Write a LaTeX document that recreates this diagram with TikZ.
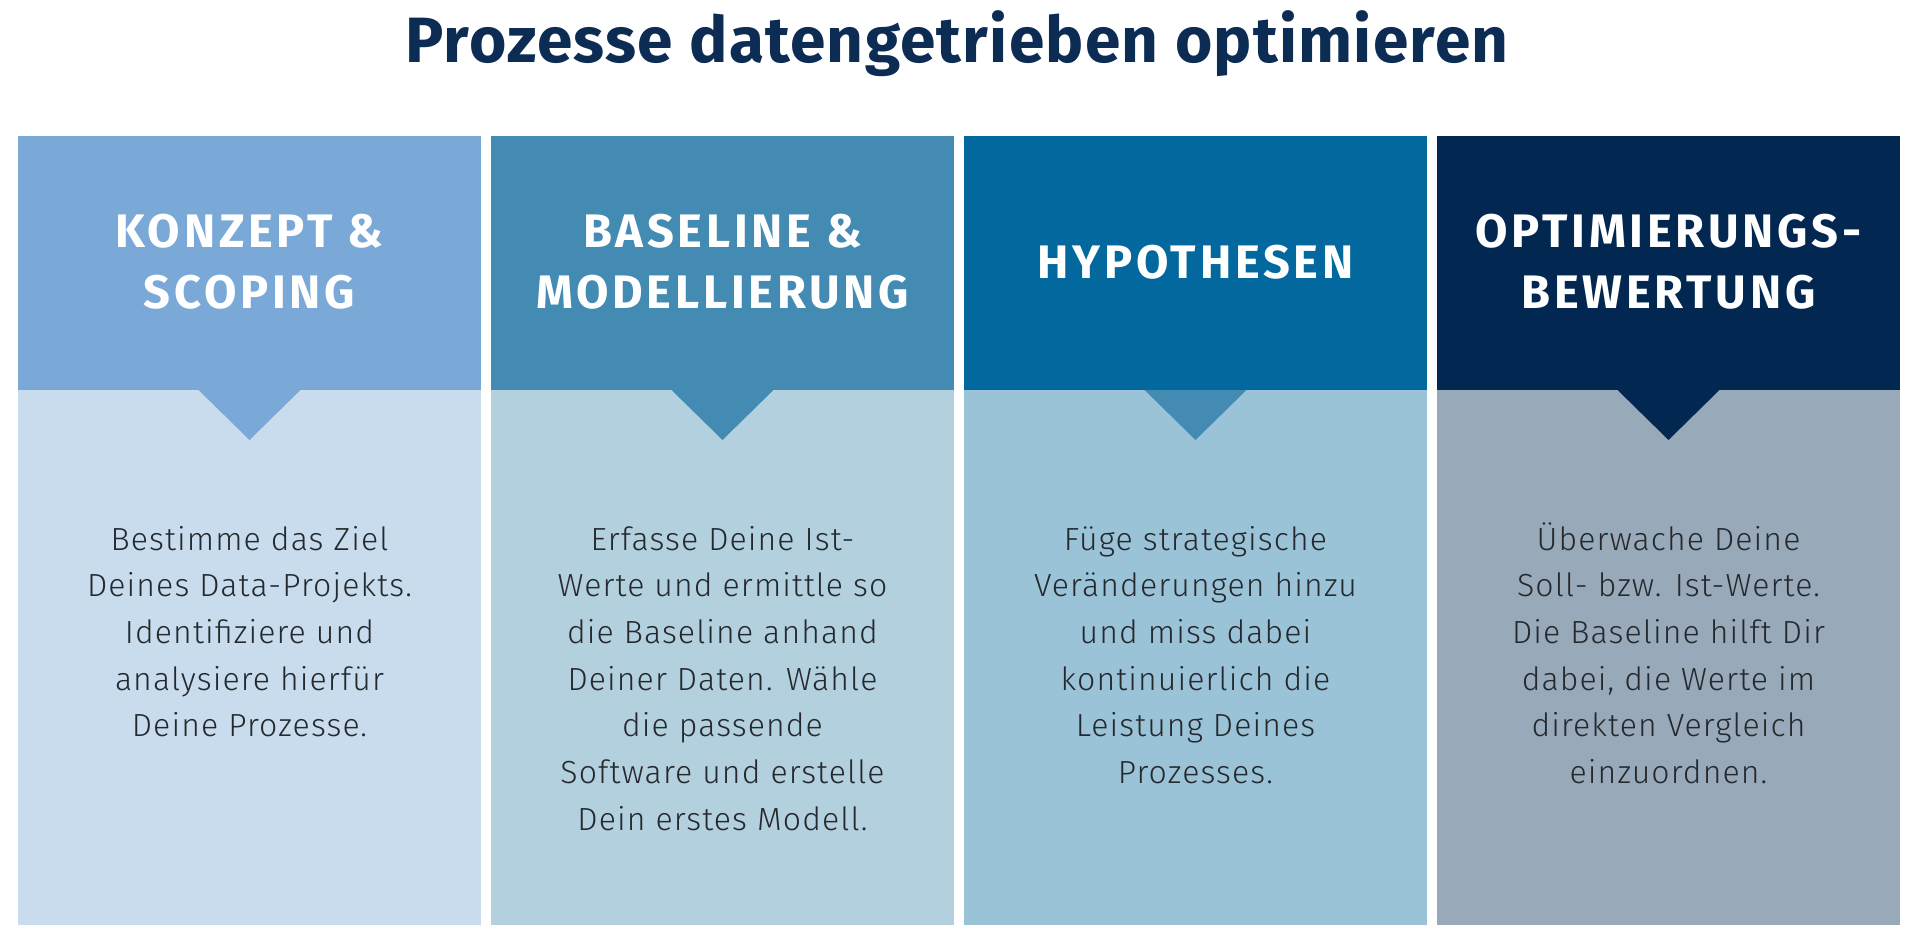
\documentclass[tikz,border=0pt]{standalone}
\usepackage{fontspec}
\setmainfont{Fira Sans}
\newfontfamily\titlefont{Fira Sans}[LetterSpace=2]
\newfontfamily\headfont{Fira Sans}[LetterSpace=8]
\newfontfamily\bodyfont{Fira Sans Light}[LetterSpace=3.5]
\definecolor{titlec}{HTML}{0D2C54}
\definecolor{bodytext}{HTML}{25292D}
\definecolor{hA}{HTML}{7AA9D7}
\definecolor{bA}{HTML}{C8DCEE}
\definecolor{hB}{HTML}{438BB3}
\definecolor{bB}{HTML}{B3D0DF}
\definecolor{hC}{HTML}{02689D}
\definecolor{bC}{HTML}{9BC3D8}
\definecolor{tC}{HTML}{438BB3}
\definecolor{hD}{HTML}{022852}
\definecolor{bD}{HTML}{98AABA}
\begin{document}
\begin{tikzpicture}[x=1pt,y=-1pt,
  hdrbox/.style={inner sep=0pt, minimum width=463pt, minimum height=254pt, anchor=north west},
  bodybox/.style={inner sep=0pt, minimum width=463pt, minimum height=535pt, anchor=north west},
  hdrtext/.style={anchor=base, align=center, text=white, inner sep=0pt,
    font={\headfont\bfseries\fontsize{47}{61}\selectfont}},
  bodytxt/.style={anchor=base, align=center, text=bodytext, inner sep=0pt,
    font={\bodyfont\fontsize{32}{46.7}\selectfont}}]
\useasboundingbox[fill=white] (0,0) rectangle (1920,947);
\node[anchor=base, text=titlec, inner sep=0pt, font={\titlefont\bfseries\fontsize{64}{70}\selectfont}] (title) at (957,63) {Prozesse datengetrieben optimieren};
% columns: body, then pointer (tucked under the header), then header
\foreach \n/\x/\hc/\bc/\tc in {A/18/hA/bA/hA, B/491/hB/bB/hB, C/964/hC/bC/tC, D/1437/hD/bD/hD}{
  \node[bodybox, fill=\bc] (b\n) at (\x,390) {};
  \coordinate (p\n) at (\x+231.5,390);
  \fill[\tc] ([xshift=-53pt,yshift=2pt]p\n) -- ([xshift=53pt,yshift=2pt]p\n) -- ([yshift=-50pt]p\n) -- cycle;
  \node[hdrbox, fill=\hc] (h\n) at (\x,136) {};
}
% anchor=base of a multi-line node is the baseline of its last line
\node[hdrtext] (tA) at (249.5,308) {KONZEPT \&\\SCOPING};
\node[hdrtext] (tB) at (722.5,308) {BASELINE \&\\MODELLIERUNG};
\node[hdrtext] (tC) at (1195.5,278) {HYPOTHESEN};
\node[hdrtext] (tD) at (1668.5,308) {OPTIMIERUNGS-\\BEWERTUNG};
\node[bodytxt] (xA) at (249.5,736.8) {Bestimme das Ziel\\Deines Data-Projekts.\\Identifiziere und\\analysiere hierfür\\Deine Prozesse.};
\node[bodytxt] (xB) at (722.5,830.2) {Erfasse Deine Ist-\\Werte und ermittle so\\die Baseline anhand\\Deiner Daten. Wähle\\die passende\\Software und erstelle\\Dein erstes Modell.};
\node[bodytxt] (xC) at (1195.5,783.5) {Füge strategische\\Veränderungen hinzu\\und miss dabei\\kontinuierlich die\\Leistung Deines\\Prozesses.};
\node[bodytxt] (xD) at (1668.5,783.5) {Überwache Deine\\Soll- bzw. Ist-Werte.\\Die Baseline hilft Dir\\dabei, die Werte im\\direkten Vergleich\\einzuordnen.};
\end{tikzpicture}
\end{document}
